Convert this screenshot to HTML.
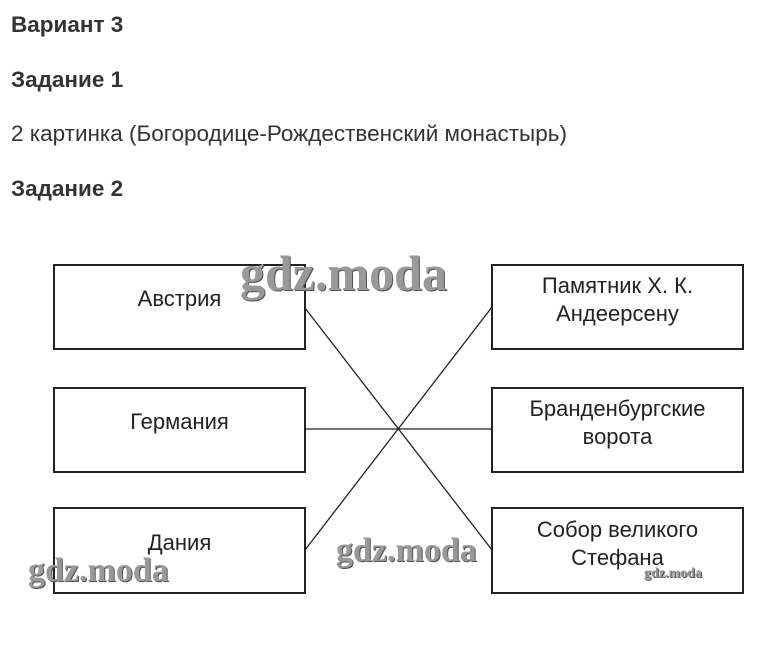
<!DOCTYPE html>
<html><head><meta charset="utf-8"><style>
body{margin:0;width:758px;height:653px;background:#fff;position:relative;font-family:"Liberation Sans",Arial,sans-serif;color:#333;overflow:hidden}
.t{position:absolute;left:11px;font-size:22.5px;white-space:nowrap}
.b{font-weight:bold}
.box{position:absolute;width:253px;border:2px solid #222;box-sizing:border-box;display:flex;align-items:center;justify-content:center;text-align:center;font-size:22px;line-height:28px;color:#222}
.wm{position:absolute;font-family:"Liberation Serif",serif;font-weight:bold;color:#999;text-shadow:1px 1px 0 #555;white-space:nowrap}
</style></head><body>
<div class="t b" style="top:12px">Вариант 3</div>
<div class="t b" style="top:67px">Задание 1</div>
<div class="t" style="top:121px">2 картинка (Богородице-Рождественский монастырь)</div>
<div class="t b" style="top:176px">Задание 2</div>
<svg style="position:absolute;left:0;top:0" width="758" height="653">
<line x1="305" y1="308" x2="492" y2="550" stroke="#222" stroke-width="1.3"/>
<line x1="305" y1="550" x2="492" y2="307" stroke="#222" stroke-width="1.3"/>
<line x1="305" y1="429" x2="492" y2="429" stroke="#222" stroke-width="1.3"/>
</svg>
<div class="box" style="left:53px;top:264px;height:86px;padding-bottom:16px">Австрия</div>
<div class="box" style="left:53px;top:387px;height:86px;padding-bottom:16px">Германия</div>
<div class="box" style="left:53px;top:507px;height:87px;padding-bottom:16px">Дания</div>
<div class="box" style="left:491px;top:264px;height:86px;padding-bottom:14px">Памятник Х. К.<br>Андеерсену</div>
<div class="box" style="left:491px;top:387px;height:86px;padding-bottom:14px">Бранденбургские<br>ворота</div>
<div class="box" style="left:491px;top:507px;height:87px;padding-bottom:14px">Собор великого<br>Стефана</div>
<div class="wm" style="left:240px;top:244px;font-size:50px">gdz.moda</div>
<div class="wm" style="left:336px;top:532px;font-size:34px">gdz.moda</div>
<div class="wm" style="left:28px;top:552px;font-size:34px">gdz.moda</div>
<div class="wm" style="left:644px;top:566px;font-size:14px">gdz.moda</div>
</body></html>
